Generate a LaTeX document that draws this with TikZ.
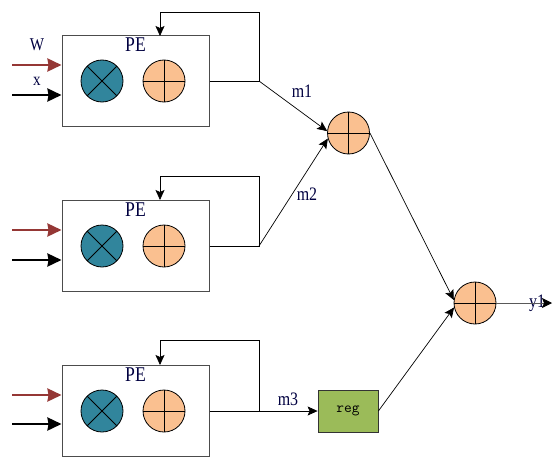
\documentclass[tikz,border=0pt]{standalone}
\usepackage{fontspec}
\setmainfont[FakeStretch=0.84]{Liberation Serif}
\usetikzlibrary{arrows.meta}
\definecolor{teal1}{HTML}{31859C}
\definecolor{peach}{HTML}{FAC090}
\definecolor{reggreen}{HTML}{9BBB59}
\definecolor{brick}{HTML}{953735}
\tikzset{
  pebox/.style={draw=black!70,line width=1pt,fill=white,minimum width=147pt,minimum height=90pt,inner sep=0pt},
  mult/.style={circle,draw=black,line width=0.8pt,fill=teal1,minimum size=42pt,inner sep=0pt,
    path picture={\draw[line width=0.8pt] (path picture bounding box.north west)--(path picture bounding box.south east)
      (path picture bounding box.north east)--(path picture bounding box.south west);}},
  addr/.style={circle,draw=black,line width=0.8pt,fill=peach,minimum size=42pt,inner sep=0pt,
    path picture={\draw[line width=0.8pt] (path picture bounding box.north)--(path picture bounding box.south)
      (path picture bounding box.west)--(path picture bounding box.east);}},
  regbox/.style={draw=black!80,line width=0.8pt,fill=reggreen,minimum width=60pt,minimum height=42pt,inner sep=0pt,font=\ttfamily\fontsize{15}{15}\selectfont},
  wire/.style={line width=0.7pt,draw=black},
  arr/.style={wire,-{Stealth[length=10pt,width=9pt,inset=2pt]}},
  outarr/.style={line width=0.9pt,draw=black!65,-{Stealth[length=10pt,width=10pt,inset=2pt,black]}},
  inred/.style={line width=2.5pt,draw=brick,-{Stealth[length=14pt,width=13pt,inset=1pt]}},
  inblk/.style={line width=2.5pt,draw=black,-{Stealth[length=14pt,width=13pt,inset=1pt]}},
  lbl/.style={inner sep=0pt,font=\fontsize{19}{19}\selectfont,text=black!75!blue},
  pelbl/.style={inner sep=0pt,font=\fontsize{21}{21}\selectfont,text=black!75!blue},
}
\begin{document}
\begin{tikzpicture}[x=1pt,y=-1pt]
\useasboundingbox (0,0) rectangle (556,460);
% PE blocks
\node[pebox] (pe1) at (135.5,81) {};
\node[pebox,minimum height=91pt] (pe2) at (135.5,246) {};
\node[pebox,minimum height=91pt] (pe3) at (135.5,411) {};
\node[pelbl] (pet1) at (135.5,45) {PE};
\node[pelbl] (pet2) at (135.5,210) {PE};
\node[pelbl] (pet3) at (135.5,375) {PE};
\node[mult] (m1) at (102,81) {};
\node[addr] (a1) at (164,81) {};
\node[mult] (m2) at (102,246) {};
\node[addr] (a2) at (164,246) {};
\node[mult] (m3) at (102,411) {};
\node[addr] (a3) at (164,411) {};
% Right side
\node[addr] (s1) at (348.5,133) {};
\node[addr] (s2) at (475,303) {};
\node[regbox] (reg) at (348,411) {reg};
% Junctions and free ends
\coordinate (j1) at (259,81);
\coordinate (j2) at (259,246);
\coordinate (j3) at (259,411);
\coordinate (out) at (552,303);
\coordinate (w1) at (12,65);
\coordinate (x1) at (12,95);
\coordinate (w2) at (12,230);
\coordinate (x2) at (12,260);
\coordinate (w3) at (12,395);
\coordinate (x3) at (12,424);
% Labels
\node[lbl,font=\fontsize{18}{18}\selectfont] (tw) at (37,45) {W};
\node[lbl,font=\fontsize{18}{18}\selectfont] (tx) at (37,81) {x};
\node[lbl] (tm1) at (302,91) {m1};
\node[lbl] (tm2) at (307,194) {m2};
\node[lbl] (tm3) at (288,399) {m3};
\node[lbl] (ty) at (537,303) {y1};
% Inputs
\draw[inred] (w1) -- (w1-|pe1.west);
\draw[inblk] (x1) -- (x1-|pe1.west);
\draw[inred] (w2) -- (w2-|pe2.west);
\draw[inblk] (x2) -- (x2-|pe2.west);
\draw[inred] (w3) -- (w3-|pe3.west);
\draw[inblk] (x3) -- (x3-|pe3.west);
% Feedback loops
\draw[arr] (pe1.east) -- (j1) -- (259,12) -- (160,12) -- (160,36);
\draw[arr] (pe2.east) -- (j2) -- (259,176) -- (160,176) -- (160,200);
\draw[arr] (pe3.east) -- (j3) -- (259,340) -- (160,340) -- (160,365);
% Forward connections
\draw[arr] (j1) -- (s1.175);
\draw[arr] (j2) -- (s1.195);
\draw[arr] (j3) -- (reg.west);
\draw[arr] (s1.east) -- (s2.172);
\draw[arr] (reg.east) -- (s2.192);
\draw[outarr] (s2.east) -- (out);
\end{tikzpicture}
\end{document}
